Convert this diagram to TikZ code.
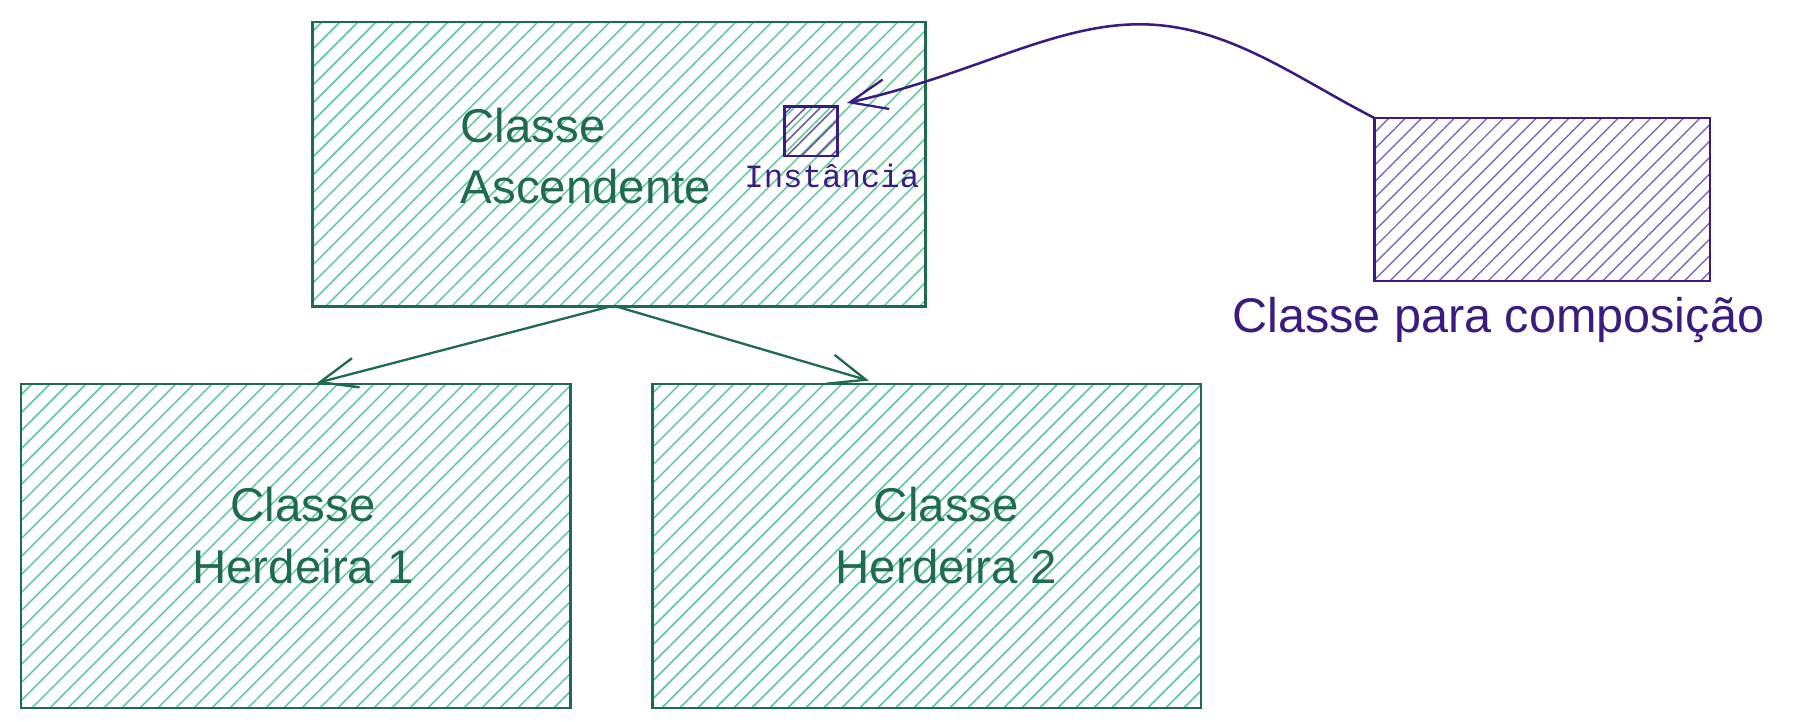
\documentclass[tikz,border=0pt]{standalone}
\usepackage{fontspec}
\setmainfont{Liberation Sans}
\newfontfamily\monof{Liberation Mono}
\usetikzlibrary{patterns.meta,arrows.meta}
\definecolor{gstroke}{HTML}{1E6B4E}
\definecolor{ghatch}{HTML}{5CC49C}
\definecolor{pstroke}{HTML}{3A1C80}
\definecolor{phatch}{HTML}{7E68BC}
\definecolor{ihatch}{HTML}{6A5A9E}
\begin{document}
\begin{tikzpicture}[x=1pt,y=-1pt,
  gbox/.style={draw=gstroke, line width=2pt, inner sep=0pt, outer sep=0pt,
    pattern={Lines[angle=45,distance=11pt,line width=1.3pt]}, pattern color=ghatch},
  pbox/.style={draw=pstroke, line width=2pt, inner sep=0pt, outer sep=0pt,
    pattern={Lines[angle=45,distance=10pt,line width=1.2pt]}, pattern color=phatch},
  ibox/.style={draw=pstroke, line width=2pt, inner sep=0pt, outer sep=0pt,
    pattern={Lines[angle=45,distance=9pt,line width=1.4pt]}, pattern color=ihatch},
  glabel/.style={text=gstroke, inner sep=0pt, font=\fontsize{41}{53}\selectfont},
  plabel/.style={text=pstroke, inner sep=0pt, font=\fontsize{42}{53}\selectfont},
  ilabel/.style={text=pstroke, inner sep=0pt, font=\monof\fontsize{28}{32}\selectfont},
  garr/.style={draw=gstroke, line width=2pt, line cap=round,
    -{Straight Barb[length=32pt,width=26pt,line width=2pt]}},
  parr/.style={draw=pstroke, line width=2.2pt, line cap=round,
    -{Straight Barb[length=32pt,width=26pt,line width=2pt]}}
]
\useasboundingbox (0,0) rectangle (1568,624);
% boxes
\node[gbox, minimum width=530pt, minimum height=246pt] (asc) at (535,142) {};
\node[gbox, minimum width=475pt, minimum height=280pt] (h1) at (255.5,472) {};
\node[gbox, minimum width=474pt, minimum height=280pt] (h2) at (801,472) {};
\node[pbox, minimum width=290pt, minimum height=141pt] (comp) at (1333,172.5) {};
\node[ibox, minimum width=46pt, minimum height=43pt] (inst) at (701,113.5) {};
% labels
\node[glabel, anchor=west, align=left] (asct) at (398,135) {Classe\\Ascendente};
\node[glabel, align=center] (h1t) at (262,463) {Classe\\Herdeira 1};
\node[glabel, align=center] (h2t) at (818,463) {Classe\\Herdeira 2};
\node[plabel, anchor=base] (compt) at (1295,287) {Classe para composição};
\node[ilabel, anchor=base] (instt) at (719,162) {Instância};
% connectors
\coordinate (peak) at (985,21);
\coordinate (itip) at ([shift={(8,-3)}]inst.north east);
\draw[garr] ([xshift=-8pt]asc.south) -- ([shift={(18.5,-1)}]h1.north);
\draw[garr] ([xshift=-2pt]asc.south) -- ([shift={(-50,-3)}]h2.north);
\draw[parr] (comp.north west) .. controls (1118,66) and (1060,21) .. (peak)
  .. controls (910,21) and (840,65) .. (itip);
\end{tikzpicture}
\end{document}
